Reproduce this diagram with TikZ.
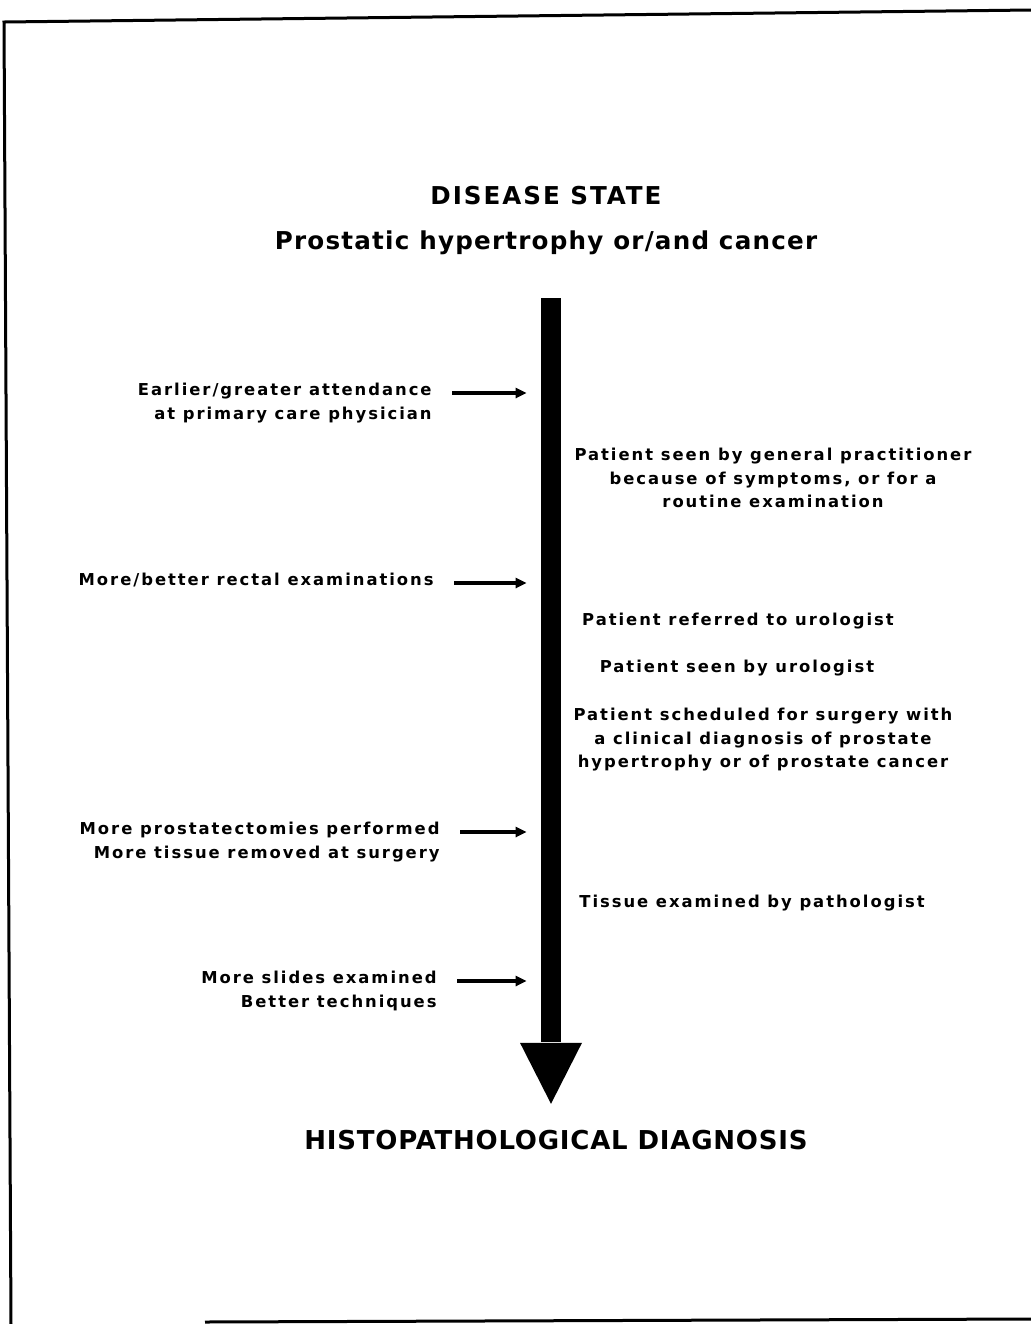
\documentclass[tikz,border=0pt]{standalone}
\usepackage{fontspec}
\setmainfont{DejaVu Sans}
\newfontfamily\notefont[LetterSpace=12]{DejaVu Sans}
\usetikzlibrary{arrows.meta,positioning}

\begin{document}
\begin{tikzpicture}[x=0.5pt,y=-0.5pt,
   cause/.style={font=\notefont\bfseries\fontsize{8.2}{11.7}\selectfont,align=right,
                 anchor=north east,inner sep=0pt},
   event/.style={font=\notefont\bfseries\fontsize{8.2}{11.7}\selectfont,align=center,
                 anchor=north,inner sep=0pt},
   heading/.style={font=\bfseries\fontsize{12.3}{14}\selectfont,inner sep=0pt},
   feed/.style={-{Triangle[length=5.5pt,width=5pt]},line width=1.8pt,shorten >=7pt},
   frame/.style={line width=1.5pt}]
  \useasboundingbox (0,0) rectangle (1031,1324);
  % ---------- scanned frame ----------
  \draw[frame] (11,1324) -- (4,22) -- (1031,10);
  \draw[frame] (205,1322) -- (1031,1319);
  % ---------- headings ----------
  \node[heading] (state) at (546,196) {\addfontfeature{LetterSpace=8}DISEASE STATE};
  \node[heading] (disease) at (546,243)
     {\addfontfeature{LetterSpace=5}Prostatic hypertrophy or/and cancer};
  \node[heading,font=\bfseries\fontsize{13}{15}\selectfont] (diagnosis) at (556,1140)
     {\addfontfeature{LetterSpace=3}HISTOPATHOLOGICAL DIAGNOSIS};
  % ---------- main arrow ----------
  \node[fill,inner sep=0pt,minimum width=10pt,minimum height=372pt,anchor=north]
     (shaft) at (551,298) {};
  \fill ([xshift=-15.5pt]shaft.south) -- ([xshift=15.5pt]shaft.south)
     -- ([yshift=-30.5pt]shaft.south) -- cycle;
  % ---------- steps on the right ----------
  \node[event] (gp) at (773,448)
     {Patient seen by general practitioner\\because of symptoms, or for a\\routine examination};
  \node[event] (referred) at (738,613) {Patient referred to urologist};
  \node[event] (urologist) at (737,660) {Patient seen by urologist};
  \node[event] (scheduled) at (763,708)
     {Patient scheduled for surgery with\\a clinical diagnosis of prostate\\hypertrophy or of prostate cancer};
  \node[event] (pathologist) at (752,895) {Tissue examined by pathologist};
  % ---------- influences on the left ----------
  \node[cause] (attend) at (432,383) {Earlier/greater attendance\\at primary care physician};
  \node[cause] (rectal) at (434,573) {More/better rectal examinations};
  \node[cause] (surgery) at (440,822) {More prostatectomies performed\\More tissue removed at surgery};
  \node[cause] (slides) at (437,971) {More slides examined\\Better techniques};
  \foreach \n in {attend,rectal,surgery,slides}
     \draw[feed] ([shift={(10pt,-5pt)}]\n.north east) coordinate (\n-from)
        -- (\n-from -| shaft.west);
\end{tikzpicture}
\end{document}
